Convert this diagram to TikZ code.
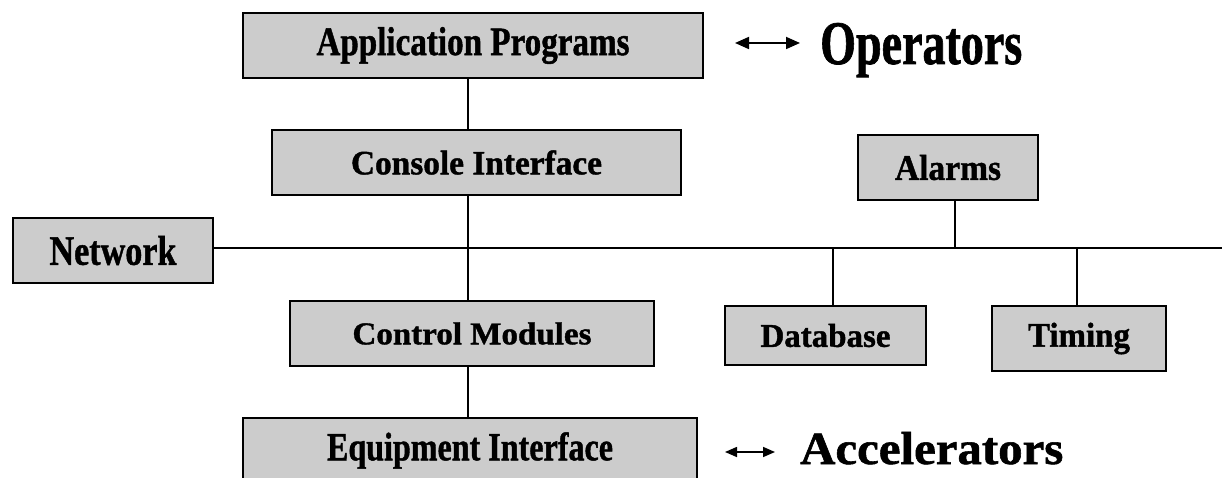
\documentclass[tikz,border=0pt]{standalone}
\usepackage{fontspec}
\setmainfont{Liberation Serif}
\newfontfamily\heavy{Liberation Serif}[FakeBold=1.2]
\usepackage{graphicx}
\usetikzlibrary{arrows.meta}
\definecolor{boxgray}{HTML}{CCCCCC}
\tikzset{
  blk/.style={draw=black, line width=2.2pt, fill=boxgray, inner sep=0pt, minimum height=65pt},
  conn/.style={draw=black, line width=1.8pt},
  lbl/.style={inner sep=0pt, anchor=base west},
  dblarrow/.style={draw=black, line width=1.8pt, {Triangle[length=14pt,width=12pt]}-{Triangle[length=14pt,width=12pt]}},
  dblarrowsmall/.style={draw=black, line width=1.6pt, {Triangle[length=12pt,width=10pt]}-{Triangle[length=12pt,width=10pt]}}
}
\newcommand{\heavytext}[3]{\resizebox{#1pt}{#2pt}{\heavy\bfseries #3}}
\begin{document}
\begin{tikzpicture}[x=1pt,y=-1pt]
\useasboundingbox[fill=white] (0,0) rectangle (1222,478);
\clip (0,0) rectangle (1222,478);

% boxes
\node[blk, minimum width=460pt] (app) at (473,45.5) {\heavytext{313}{28}{Application Programs}};
\node[blk, minimum width=409pt] (console) at (476.5,162.5) {\heavytext{251}{24}{Console Interface}};
\node[blk, minimum width=180pt] (alarms) at (948,167.5) {\heavytext{106}{25}{Alarms}};
\node[blk, minimum width=200pt] (network) at (113,250.5) {\heavytext{127}{29}{Network}};
\node[blk, minimum width=364pt] (control) at (472,333.5) {\heavytext{239}{22}{Control Modules}};
\node[blk, minimum width=201pt, minimum height=59pt] (database) at (825.5,335.5) {\heavytext{130}{23}{Database}};
\node[blk, minimum width=174pt] (timing) at (1079,338.5) {\heavytext{102}{24}{Timing}};
\node[blk, minimum width=454pt] (equip) at (470,450.5) {\heavytext{286}{28}{Equipment Interface}};

% side labels
\node[lbl] (ops) at (820,64) {\heavytext{202}{41}{Operators}};
\node[lbl] (acc) at (800,464) {\heavytext{263}{32}{Accelerators}};
\coordinate (a1l) at (735,43);
\coordinate (a1r) at (800,43);
\coordinate (a2l) at (725,452);
\coordinate (a2r) at (775,452);
\draw[dblarrow] (a1l) -- (a1r);
\draw[dblarrowsmall] (a2l) -- (a2r);

% bus coordinates
\coordinate (spine) at (468,248);
\coordinate (busend) at (1223,248);
\coordinate (j1) at (955,248);
\coordinate (j2) at (833,248);
\coordinate (j3) at (1077,248);

% connectors
\draw[conn] (app.south -| spine) -- (console.north -| spine);
\draw[conn] (console.south -| spine) -- (control.north -| spine);
\draw[conn] (control.south -| spine) -- (equip.north -| spine);
\draw[conn] (network.east |- busend) -- (busend);
\draw[conn] (alarms.south -| j1) -- (j1);
\draw[conn] (j2) -- (database.north -| j2);
\draw[conn] (j3) -- (timing.north -| j3);
\end{tikzpicture}
\end{document}
